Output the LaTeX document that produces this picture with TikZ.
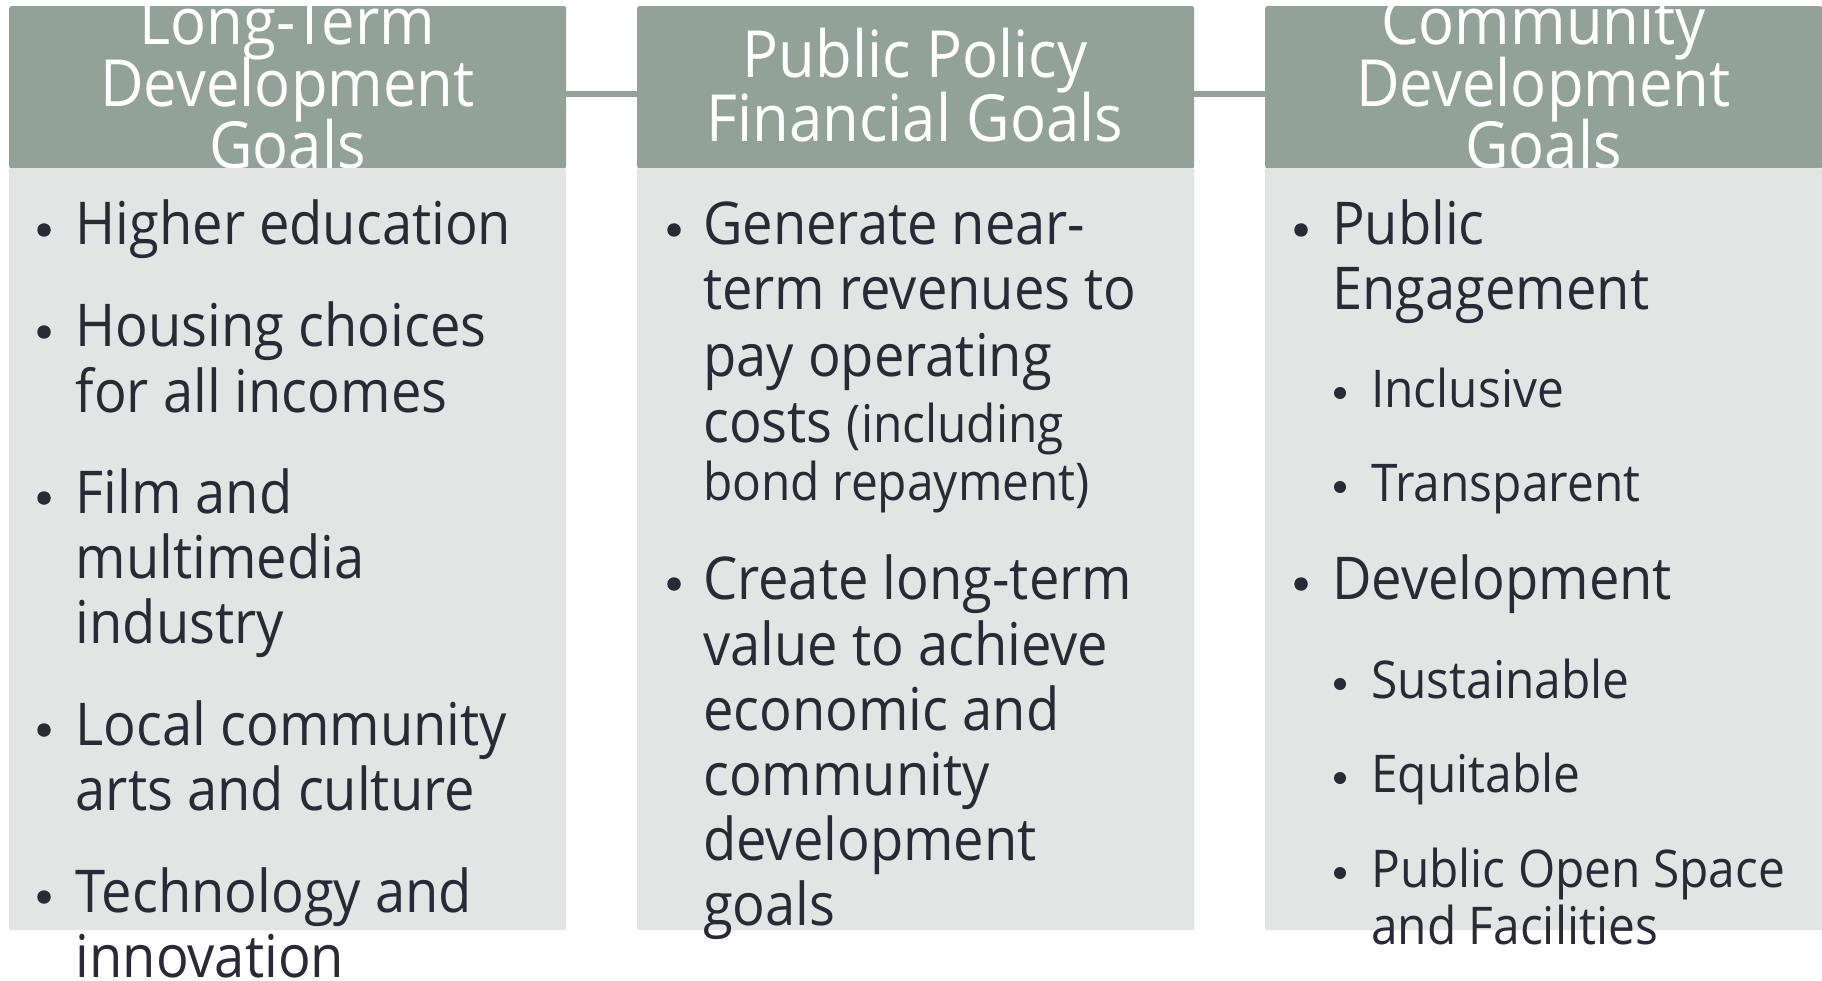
\documentclass[tikz,border=0pt]{standalone}
\usepackage{fontspec}
\setmainfont{Open Sans}[FakeStretch=0.92]
\usetikzlibrary{calc}
\definecolor{hdr}{RGB}{146,162,152}
\definecolor{bodyfill}{RGB}{223,227,226}
\definecolor{txt}{RGB}{42,42,54}
\tikzset{
  hdrbox/.style={fill=hdr, draw=none, rounded corners=2pt, anchor=north west, minimum width=557pt, minimum height=162pt, inner sep=0pt},
  bodybox/.style={fill=bodyfill, fill opacity=0.9, draw=none, rounded corners=2pt, anchor=north west, minimum width=557pt, minimum height=762pt, inner sep=0pt},
  htext/.style={text=white, font=\fontsize{65}{65}\selectfont, anchor=base, inner sep=0pt},
  btext/.style={text=txt, font=\fontsize{59}{59}\selectfont, anchor=base west, inner sep=0pt},
  stext/.style={text=txt, font=\fontsize{52}{52}\selectfont, anchor=base west, inner sep=0pt},
  bul/.style={circle, fill=txt, inner sep=0pt, minimum size=13.5pt},
  sbul/.style={circle, fill=txt, inner sep=0pt, minimum size=12pt},
  conn/.style={draw=hdr, line width=6pt}
}
\begin{document}
\begin{tikzpicture}[x=1pt,y=-1pt]
\clip (0,0) rectangle (1822,981);
\fill[white] (0,0) rectangle (1822,981);
% headers
\node[hdrbox] (h1) at (9,6) {};
\node[hdrbox] (h2) at (637,6) {};
\node[hdrbox] (h3) at (1265,6) {};
\draw[conn] ([yshift=-6.5pt]h1.east) -- ([yshift=-6.5pt]h2.west);
\draw[conn] ([yshift=-6.5pt]h2.east) -- ([yshift=-6.5pt]h3.west);
% header texts
\node[htext] (h1a) at (287.5,45) {Long-Term};
\node[htext] (h1b) at (287.5,107) {Development};
\node[htext] (h1c) at (287.5,169) {Goals};
\node[htext] (h2a) at (915,78) {Public Policy};
\node[htext] (h2b) at (915,142) {Financial Goals};
\node[htext] (h3a) at (1543.5,45) {Community};
\node[htext] (h3b) at (1543.5,107) {Development};
\node[htext] (h3c) at (1543.5,169) {Goals};
% bodies
\node[bodybox] (b1) at (9,168) {};
\node[bodybox] (b2) at (637,168) {};
\node[bodybox] (b3) at (1265,168) {};
% column 1
\foreach \y/\n in {245/p1,347/p2,513/p3,745/p4,912/p5}
  \node[bul] (c1\n) at (44,\y-15) {};
\node[btext] (t1a) at (75.5,245) {Higher education};
\node[btext] (t1b) at (75.5,347) {Housing choices};
\node[btext] (t1c) at (75.5,412) {for all incomes};
\node[btext] (t1d) at (75.5,513) {Film and};
\node[btext] (t1e) at (75.5,578) {multimedia};
\node[btext] (t1f) at (75.5,643) {industry};
\node[btext] (t1g) at (75.5,745) {Local community};
\node[btext] (t1h) at (75.5,810) {arts and culture};
\node[btext] (t1i) at (75.5,912) {Technology and};
\node[btext] (t1j) at (75.5,977) {innovation};
% column 2
\foreach \y/\n in {245/p1,599/p2}
  \node[bul] (c2\n) at (674,\y-15) {};
\node[btext] (t2a) at (703,245) {Generate near-};
\node[btext] (t2b) at (703,310) {term revenues to};
\node[btext] (t2c) at (703,376) {pay operating};
\node[btext] (t2d) at (703,442) {costs \fontsize{52}{52}\selectfont(including};
\node[stext] (t2e) at (703,500) {bond repayment)};
\node[btext] (t2f) at (703,599) {Create long-term};
\node[btext] (t2g) at (703,665) {value to achieve};
\node[btext] (t2h) at (703,730) {economic and};
\node[btext] (t2i) at (703,795) {community};
\node[btext] (t2j) at (703,860) {development};
\node[btext] (t2k) at (703,925) {goals};
% column 3
\foreach \y/\n in {245/p1,599/p2}
  \node[bul] (c3\n) at (1301,\y-15) {};
\foreach \y/\n in {407/s1,501/s2,698/s3,792/s4,887/s5}
  \node[sbul] (c3\n) at (1340,\y-14) {};
\node[btext] (t3a) at (1332,245) {Public};
\node[btext] (t3b) at (1332,310) {Engagement};
\node[stext] (t3c) at (1371,407) {Inclusive};
\node[stext] (t3d) at (1371,501) {Transparent};
\node[btext] (t3e) at (1332,599) {Development};
\node[stext] (t3f) at (1371,698) {Sustainable};
\node[stext] (t3g) at (1371,792) {Equitable};
\node[stext] (t3h) at (1371,887) {Public Open Space};
\node[stext] (t3i) at (1371,944) {and Facilities};
\end{tikzpicture}
\end{document}
